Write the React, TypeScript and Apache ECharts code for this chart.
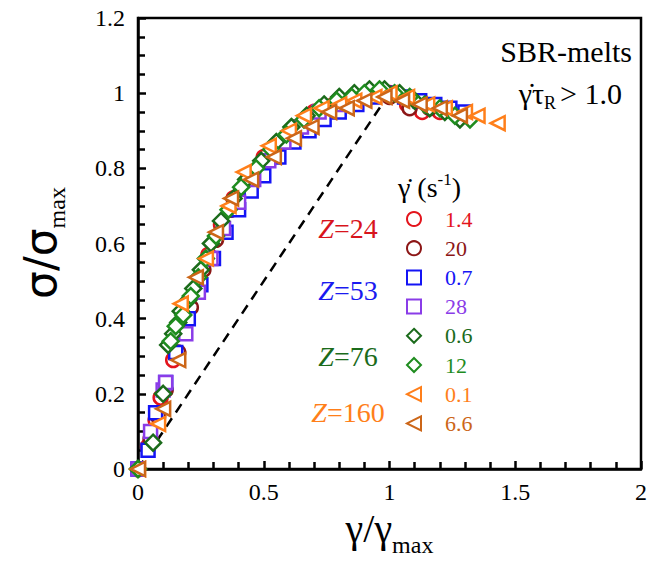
import React, { useEffect, useRef } from "react";
import * as echarts from "echarts";

// ---- data ----
const seriesNames = ["1.4", "20", "0.7", "28", "0.6", "12", "0.1", "6.6"];
const zLabels = ["Z=24", "Z=53", "Z=76", "Z=160"];
const xTicks = [0, 0.5, 1, 1.5, 2];
const yTicks = [0, 0.2, 0.4, 0.6, 0.8, 1, 1.2];

const red14: number[][] = [
  [0, 0], [0.04, 0.06], [0.07, 0.13], [0.09, 0.19], [0.14, 0.29], [0.19, 0.4], [0.23, 0.48],
  [0.28, 0.57], [0.33, 0.65], [0.38, 0.72], [0.44, 0.78], [0.5, 0.83], [0.56, 0.87], [0.63, 0.91],
  [0.7, 0.95], [0.78, 0.97], [0.86, 0.99], [0.93, 1.0], [1.0, 1.0], [1.07, 0.97], [1.13, 0.95], [1.2, 0.95],
];
const darkRed20: number[][] = [
  [0, 0], [0.05, 0.08], [0.08, 0.14], [0.11, 0.21], [0.16, 0.31], [0.21, 0.43], [0.26, 0.53],
  [0.31, 0.61], [0.37, 0.69], [0.43, 0.75], [0.49, 0.8], [0.55, 0.85], [0.62, 0.89], [0.69, 0.93],
  [0.76, 0.96], [0.84, 0.98], [0.92, 0.99], [1.0, 0.99], [1.08, 0.96], [1.16, 0.96],
];
const blue07: number[][] = [
  [0, 0], [0.04, 0.05], [0.07, 0.15], [0.11, 0.23], [0.15, 0.31], [0.2, 0.4], [0.25, 0.49],
  [0.3, 0.56], [0.35, 0.63], [0.4, 0.69], [0.45, 0.74], [0.5, 0.78], [0.56, 0.83], [0.62, 0.87],
  [0.68, 0.9], [0.74, 0.93], [0.8, 0.95], [0.87, 0.97], [0.94, 0.99], [1.0, 1.0], [1.06, 0.99],
  [1.12, 0.98], [1.18, 0.97], [1.24, 0.96], [1.3, 0.95],
];
const purple28: number[][] = [
  [0, 0], [0.05, 0.1], [0.1, 0.21], [0.11, 0.23], [0.19, 0.36], [0.24, 0.47], [0.29, 0.56],
  [0.34, 0.64], [0.4, 0.71], [0.46, 0.77], [0.52, 0.82], [0.58, 0.87], [0.65, 0.91], [0.72, 0.95],
  [0.8, 0.97], [0.88, 0.99], [0.96, 1.0],
];
const darkGreen06: number[][] = [
  [0, 0], [0.06, 0.07], [0.1, 0.2], [0.12, 0.33], [0.14, 0.36], [0.16, 0.39], [0.17, 0.42],
  [0.2, 0.45], [0.22, 0.48], [0.25, 0.53], [0.29, 0.6], [0.33, 0.66], [0.38, 0.72], [0.43, 0.77],
  [0.49, 0.82], [0.55, 0.87], [0.61, 0.91], [0.67, 0.94], [0.74, 0.97], [0.8, 0.99], [0.86, 1.0],
  [0.92, 1.01], [0.98, 1.01], [1.04, 1.0], [1.1, 0.98], [1.16, 0.96], [1.22, 0.95], [1.28, 0.93],
];
const green12: number[][] = [
  [0, 0], [0.13, 0.34], [0.15, 0.38], [0.18, 0.41], [0.21, 0.46], [0.24, 0.51], [0.27, 0.56],
  [0.31, 0.62], [0.36, 0.69], [0.41, 0.75], [0.47, 0.8], [0.53, 0.85], [0.59, 0.89], [0.66, 0.93],
  [0.72, 0.96], [0.79, 0.98], [0.85, 0.99], [0.9, 1.0], [0.96, 1.01], [1.02, 1.0], [1.08, 0.99],
  [1.14, 0.97], [1.2, 0.96], [1.26, 0.94], [1.32, 0.93],
];
const orange01: number[][] = [
  [0, 0], [0.08, 0.12], [0.17, 0.44], [0.27, 0.56], [0.36, 0.7], [0.42, 0.79], [0.52, 0.86],
  [0.6, 0.9], [0.66, 0.94], [0.73, 0.96], [0.8, 0.97], [0.86, 0.98], [0.94, 0.99], [1.0, 1.0],
  [1.07, 0.99], [1.15, 0.97], [1.22, 0.96], [1.3, 0.95], [1.35, 0.94], [1.43, 0.92],
];
const darkOrange66: number[][] = [
  [0, 0], [0.1, 0.16], [0.16, 0.29], [0.23, 0.51], [0.31, 0.63], [0.37, 0.72], [0.45, 0.77],
  [0.54, 0.83], [0.62, 0.88], [0.69, 0.91], [0.76, 0.95], [0.83, 0.96], [0.9, 0.98], [0.98, 0.99],
  [1.05, 0.98], [1.12, 0.97], [1.2, 0.96], [1.28, 0.94],
];
const guideLine: number[][] = [[0, 0], [1, 1]];

const seriesData = [red14, darkRed20, blue07, purple28, darkGreen06, green12, orange01, darkOrange66];
const seriesColors = ["#e3141c", "#8c1616", "#1414f5", "#8a3ce8", "#1b6b1b", "#1f8c1f", "#ff7f1a", "#cc6618"];
const LEFT_TRI = "path://M0,5L10,0L10,10Z";
const seriesSymbols = ["circle", "circle", "rect", "rect", "diamond", "diamond", LEFT_TRI, LEFT_TRI];
const seriesSizes: (number | number[])[] = [14, 14, 13, 13, 16, 16, [14, 14], [14, 14]];
const zColors = ["#d8141c", "#1a1af0", "#1b6b1b", "#ff7f1a"];
const zY = [228, 290, 356, 412];

const SERIF = "Liberation Serif";
const SANS = "DejaVu Sans";

export default function App() {
  const ref = useRef<HTMLDivElement>(null);
  useEffect(() => {
    if (!ref.current) return;
    const chart = echarts.init(ref.current, undefined, { renderer: "svg" });

    const scatter = seriesNames.map((name, i) => ({
      name,
      type: "scatter",
      data: seriesData[i],
      symbol: seriesSymbols[i],
      symbolSize: seriesSizes[i],
      symbolKeepAspect: true,
      itemStyle: { color: "#ffffff", borderColor: seriesColors[i], borderWidth: 2.5, opacity: 1 },
      z: 3 + i,
      silent: true,
    }));

    const option: any = {
      animation: false,
      backgroundColor: "#ffffff",
      textStyle: { fontFamily: SERIF },
      grid: {
        left: 138, right: 7, top: 18, bottom: 100,
        show: true, borderColor: "#000", borderWidth: 2.5, backgroundColor: "transparent",
      },
      xAxis: {
        type: "value", min: xTicks[0], max: xTicks[xTicks.length - 1], interval: 0.5,
        axisLine: { show: true, onZero: false, lineStyle: { color: "#000", width: 2.5 } },
        axisTick: { show: true, inside: true, length: 8, lineStyle: { color: "#000", width: 2.5 } },
        minorTick: { show: true, splitNumber: 5, length: 7, lineStyle: { color: "#000", width: 2.5 } },
        splitLine: { show: false },
        axisLabel: { color: "#000", fontFamily: SERIF, fontSize: 24, margin: 11 },
        name: "{a|γ/γ}{s|max}",
        nameLocation: "middle",
        nameGap: 20,
        nameTextStyle: {
          fontFamily: SERIF,
          rich: {
            a: { fontFamily: SERIF, fontSize: 40, color: "#000", lineHeight: 40 },
            s: { fontFamily: SERIF, fontSize: 24, color: "#000", padding: [32, 0, 0, 0] },
          },
        },
      },
      yAxis: {
        type: "value", min: yTicks[0], max: yTicks[yTicks.length - 1], interval: 0.2,
        axisLine: { show: true, onZero: false, lineStyle: { color: "#000", width: 2.5 } },
        axisTick: { show: true, inside: true, length: 8, lineStyle: { color: "#000", width: 2.5 } },
        minorTick: { show: true, splitNumber: 4, length: 7, lineStyle: { color: "#000", width: 2.5 } },
        splitLine: { show: false },
        axisLabel: { color: "#000", fontFamily: SERIF, fontSize: 24, margin: 13 },
      },
      legend: {
        orient: "vertical",
        left: 401, top: 203,
        itemWidth: 14, itemHeight: 14, itemGap: 7.2,
        selectedMode: false,
        data: seriesNames.map((n, i) => ({
          name: n,
          textStyle: { color: seriesColors[i], fontFamily: SERIF, fontSize: 22, lineHeight: 21, padding: [0, 0, 0, 19] },
        })),
      },
      graphic: [
        {
          type: "text", x: 40, y: 243, rotation: Math.PI / 2,
          style: {
            text: "{a|σ/σ}{s|max}", align: "center", verticalAlign: "middle",
            rich: {
              a: { fontFamily: SANS, fontSize: 44, fill: "#000", lineHeight: 44 },
              s: { fontFamily: SERIF, fontSize: 24, fill: "#000", padding: [34, 0, 0, 0] },
            },
          },
        },
        {
          type: "text", x: 632, y: 51,
          style: {
            text: "{a|SBR-melts}", align: "right", verticalAlign: "middle",
            rich: { a: { fontFamily: SERIF, fontSize: 30, fill: "#000" } },
          },
        },
        {
          type: "text", x: 622, y: 93,
          style: {
            text: "{a|γ̇τ}{s|R}{a|> 1.0}", align: "right", verticalAlign: "middle",
            rich: {
              a: { fontFamily: SERIF, fontSize: 30, fill: "#000", lineHeight: 30 },
              s: { fontFamily: SERIF, fontSize: 18, fill: "#000", padding: [20, 4, 0, 0] },
            },
          },
        },
        {
          type: "text", x: 398, y: 187,
          style: {
            text: "{a|γ̇ (s}{p|-1}{a|)}", align: "left", verticalAlign: "middle",
            rich: {
              a: { fontFamily: SERIF, fontSize: 28, fill: "#000", lineHeight: 28 },
              p: { fontFamily: SERIF, fontSize: 17, fill: "#000", padding: [0, 0, 16, 0] },
            },
          },
        },
        ...zLabels.map((t, i) => ({
          type: "text", x: 348, y: zY[i],
          style: {
            text: `{i|Z}{n|${t.slice(1)}}`, align: "center", verticalAlign: "middle",
            rich: {
              i: { fontFamily: SERIF, fontStyle: "italic", fontSize: 28, fill: zColors[i] },
              n: { fontFamily: SERIF, fontSize: 28, fill: zColors[i] },
            },
          },
        })),
      ],
      series: [
        {
          name: "guide", type: "line", data: guideLine, showSymbol: false, symbol: "none",
          lineStyle: { color: "#000", width: 2.5, type: [10, 7] }, z: 2, silent: true,
        },
        ...scatter,
      ],
    };
    chart.setOption(option);
    return () => chart.dispose();
  }, []);
  return <div ref={ref} style={{ width: 650, height: 569, position: "absolute", left: 0, top: 0 }} />;
}
